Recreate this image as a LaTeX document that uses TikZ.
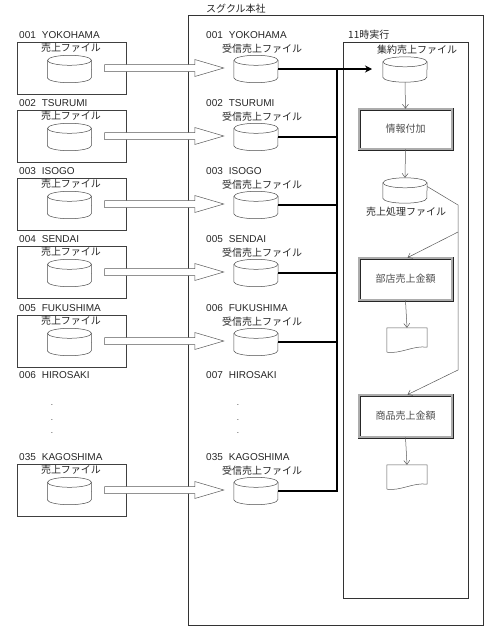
\documentclass[tikz,border=0pt]{standalone}
\usepackage{fontspec}
\setmainfont{Liberation Sans}
\newfontfamily\jp{Noto Sans CJK JP}
\usetikzlibrary{arrows.meta,calc}
\newcommand{\cylpic}[1]{%
  \draw[draw=black!70, fill=white, line width=0.5pt]
    ([yshift=-5pt]#1.north west) -- ([yshift=5pt]#1.south west)
    arc[start angle=180, end angle=360, x radius=22pt, y radius=5pt]
    -- ([yshift=-5pt]#1.north east);
  \draw[draw=black!70, fill=white, line width=0.5pt]
    ([yshift=-5pt]#1.north) ellipse[x radius=22pt, y radius=5pt];
}
\begin{document}
\begin{tikzpicture}[x=1pt,y=-1pt,
  every node/.style={font=\fontsize{10}{12}\selectfont, text=black!85},
  lbl/.style={anchor=west, inner sep=0pt},
  jlbl/.style={inner sep=0pt, font=\jp\fontsize{10}{12}\selectfont},
  cyl/.style={minimum width=44pt, minimum height=27pt, inner sep=0pt},
  lbox/.style={draw=black!75, line width=0.6pt, minimum width=109pt, minimum height=52pt, inner sep=0pt},
  proc/.style={draw=black!85, double=gray!65, double distance=1.6pt, line width=0.7pt,
     minimum width=93pt, minimum height=40pt, inner sep=0pt, font=\jp\fontsize{10}{12}\selectfont, text=black!70},
  docbox/.style={minimum width=40pt, minimum height=24pt, inner sep=0pt},
  thin/.style={draw=black!65, line width=0.5pt, -{Straight Barb[length=4pt,width=6pt]}},
  bus/.style={draw=black, line width=1.6pt},
  dotn/.style={inner sep=0pt, font=\fontsize{8}{8}\selectfont}
]
\useasboundingbox (0,0) rectangle (501,640);

% outer frames
\node[draw=black!80, line width=0.6pt, minimum width=295pt, minimum height=610pt, inner sep=0pt] (hq) at (335.5,320) {};
\node[jlbl, anchor=west] (hqlbl) at (206,9) {スグクル本社};
\node[draw=black!80, line width=0.6pt, minimum width=125pt, minimum height=556pt, inner sep=0pt] (run) at (405.5,320) {};
\node[jlbl, anchor=west] (runlbl) at (348,35) {11時実行};

% rows
\foreach \r/\ln/\mn/\id in {69/001\hspace{6pt}YOKOHAMA/001\hspace{6pt}YOKOHAMA/1,
                            137/002\hspace{6pt}TSURUMI/002\hspace{6pt}TSURUMI/2,
                            205/003\hspace{6pt}ISOGO/003\hspace{6pt}ISOGO/3,
                            273/004\hspace{6pt}SENDAI/005\hspace{6pt}SENDAI/4,
                            342/005\hspace{6pt}FUKUSHIMA/006\hspace{6pt}FUKUSHIMA/5,
                            491/035\hspace{6pt}KAGOSHIMA/035\hspace{6pt}KAGOSHIMA/6} {
  \node[lbl] (ll\id) at (19,\r-34) {\ln};
  \node[lbox] (lb\id) at (71.5,\r-1) {};
  \node[jlbl] (lj\id) at (71,\r-21) {売上ファイル};
  \node[cyl] (lc\id) at (69.5,\r) {};
  \cylpic{lc\id}
  \node[lbl] (ml\id) at (206,\r-34) {\mn};
  \node[jlbl, anchor=west] (mj\id) at (222,\r-20) {受信売上ファイル};
  \node[cyl] (mc\id) at (256,\r) {};
  \cylpic{mc\id}
  % hollow arrow
  \path let \p1=(lc\id.east), \p2=(mc\id.west) in
    coordinate (as\id) at (\x1+13,\y1+1) coordinate (at\id) at (\x2-10,\y1+1);
  \draw[draw=black!65, fill=white, line width=0.5pt]
    let \p1=(as\id), \p2=(at\id) in
    (\x1,\y1-3.5) -- (\x2-29,\y1-3.5) -- (\x2-29,\y1-8.5) -- (\x2,\y2) -- (\x2-29,\y1+8.5)
    -- (\x2-29,\y1+3.5) -- (\x1,\y1+3.5) -- cycle;
  \coordinate (bj\id) at (337,\r);
}
\node[lbl] (ll7) at (19,375) {006\hspace{6pt}HIROSAKI};
\node[lbl] (ml7) at (206,375) {007\hspace{6pt}HIROSAKI};
\foreach \yy/\k in {405/a,420/b,433/c}{
  \node[dotn] (ld\k) at (52,\yy) {.};
  \node[dotn] (md\k) at (238,\yy) {.};
}

% right flow
\node[cyl, minimum height=25pt] (agg) at (405,69.5) {};
\cylpic{agg}
\node[jlbl] (aggl) at (417,50) {集約売上ファイル};
\node[proc] (info) at (405.5,129) {情報付加};
\node[cyl, minimum height=25pt] (pf) at (405,190.5) {};
\cylpic{pf}
\node[jlbl] (pfl) at (406,212) {売上処理ファイル};
\node[proc, minimum height=42pt] (bu) at (405.5,279) {部店売上金額};
\node[proc, minimum height=42pt] (sh) at (405.5,416) {商品売上金額};
\node[docbox] (d1) at (407,340) {};
\node[docbox] (d2) at (407,477) {};
\foreach \d in {d1,d2}{
  \draw[draw=black!65, line width=0.5pt, fill=white]
    (\d.south west) -- (\d.north west) -- (\d.north east) -- ([yshift=5pt]\d.south east)
    .. controls ([xshift=-14pt,yshift=7pt]\d.south east) and ([xshift=14pt,yshift=-2pt]\d.south west) .. (\d.south west);
}

% bus connectors
\coordinate (aggin) at (372,69);
\draw[bus] (mc1.east) -- (bj1);
\draw[bus, -{Stealth[length=7pt,width=7pt]}] (bj1) -- (aggin);
\foreach \id in {2,3,4,5}{ \draw[bus] (mc\id.east) -- (bj\id); }
\draw[bus] (mc6.east) -- (bj6) -- (bj1);

% thin flow arrows
\coordinate (br1) at (458,205);
\coordinate (br2) at (458,232);
\coordinate (br3) at (458,370);
\draw[thin] (agg.south) -- (info.north);
\draw[thin] (info.south) -- (pf.north);
\draw[draw=black!65, line width=0.5pt] ([yshift=4pt]pf.east) -- (br1) -- (br3);
\draw[thin] (br2) -- ([xshift=2pt]bu.north);
\draw[thin] (br3) -- ([xshift=2pt]sh.north);
\draw[thin] (bu.south) -- (d1.north);
\draw[thin] (sh.south) -- (d2.north);
\end{tikzpicture}
\end{document}
